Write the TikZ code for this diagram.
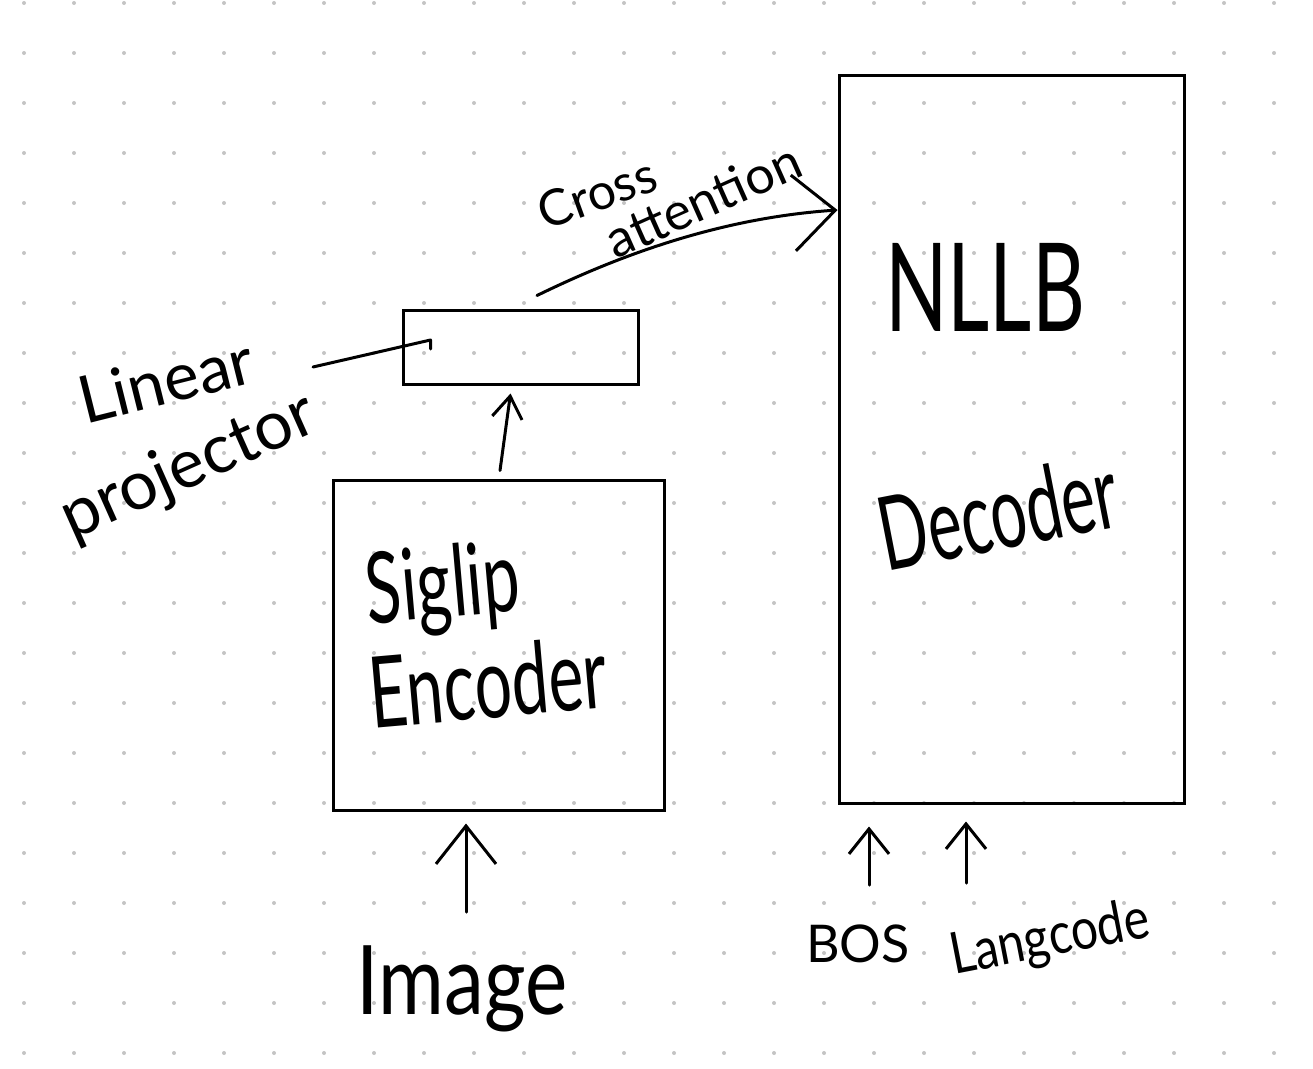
\documentclass[tikz,border=0pt]{standalone}
\usepackage{fontspec}
\setmainfont{Lato}
\usetikzlibrary{arrows.meta,calc}
\definecolor{dotc}{HTML}{C4C4C4}
\begin{document}
\begin{tikzpicture}[x=1pt,y=-1pt,
  ink/.style={line width=3pt, line cap=round, line join=round, black},
  box/.style={draw, line width=3pt, inner sep=0pt, black},
  hand/.style={font=\fontsize{#1}{#1}\selectfont, inner sep=0pt, black},
  headS/.style={-{Straight Barb[length=22pt,width=30pt]}},
  headM/.style={-{Straight Barb[length=25pt,width=40pt]}},
  headL/.style={-{Straight Barb[length=38pt,width=60pt]}},
  headX/.style={-{Straight Barb[length=42pt,width=76pt]}}
]
\useasboundingbox (0,0) rectangle (1313,1068);
\fill[white] (0,0) rectangle (1313,1068);
\foreach \x in {24,74,...,1313}
  \foreach \y in {3,53,...,1068}
    \fill[dotc] (\x,\y) circle (2pt);

% boxes
\node[box, minimum width=331pt, minimum height=330pt] (siglip) at (498.5,645) {};
\node[box, minimum width=235pt, minimum height=74pt] (proj) at (520.5,347) {};
\node[box, minimum width=345pt, minimum height=728pt] (nllb) at (1011.5,439) {};

% texts
\node[hand=66, rotate=5, yscale=1.5] (sigA) at (443,590) {Siglip};
\node[hand=66, rotate=5, yscale=1.5] (sigB) at (488,682) {Encoder};
\node[hand=82, yscale=1.5] (nllbtxt) at (985,287) {NLLB};
\node[hand=64, rotate=11, yscale=1.6] (dectxt) at (998,512) {Decoder};
\node[hand=66, rotate=14] (linA) at (166,380) {Linear};
\node[hand=68, rotate=24] (linB) at (189,468) {projector};
\node[hand=50, rotate=20] (crossA) at (597,193) {Cross};
\node[hand=52, rotate=24] (crossB) at (703,200) {attention};
\node[hand=80, anchor=north, yscale=1.2] (img) at (462,945) {Image};
\node[hand=52, anchor=north] (bos) at (858,925) {BOS};
\node[hand=48, rotate=11, yscale=1.2] (lang) at (1050,940) {Langcode};

% connectors
\draw[ink, headL] ($(img.north)+(4,-33)$) -- ($(siglip.south)+(-32.5,12)$);
\draw[ink, headS] ($(siglip.north)+(1.5,-8)$) -- ($(proj.south)+(-10,8)$);
\draw[ink, headX] ($(proj.north)+(16.5,-13)$) .. controls (620,255) and (720,218) .. ($(nllb.west)+(0,-229)$);
\draw[ink, headM] ($(bos.north)+(11,-40)$) -- ($(nllb.south)+(-142.5,22)$);
\draw[ink, headM] ($(lang.center)+(-84,-57)$) -- ($(nllb.south)+(-45.5,17)$);
\draw[ink] ($(linA.center)+(147,-13)$) -- ($(proj.west)+(29,-7)$) -- ++(0,9);
\end{tikzpicture}
\end{document}
